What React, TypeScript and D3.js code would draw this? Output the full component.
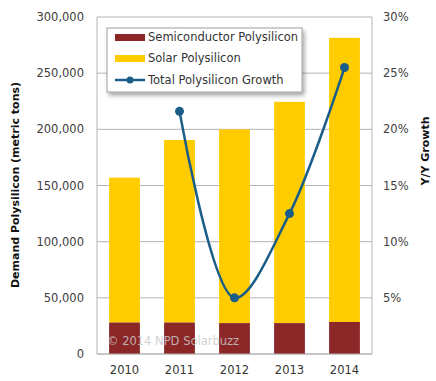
import React from "react";
import * as d3 from "d3";

const years = ["2010", "2011", "2012", "2013", "2014"];
const semiconductor = [28000, 28000, 27500, 27500, 28500];
const totalDemand = [157000, 190500, 200000, 224500, 281500];
const growthYears = ["2011", "2012", "2013", "2014"];
const growth = [21.6, 5.0, 12.5, 25.5];
const leftTicks = [0, 50000, 100000, 150000, 200000, 250000, 300000];
const rightTicks = [5, 10, 15, 20, 25, 30];

const W = 436;
const H = 381;
const M = { left: 97, right: 372, top: 17, bottom: 354 };
const FONT = "'DejaVu Sans', Verdana, sans-serif";

export default function App() {
  const x = d3.scaleBand<string>().domain(years).range([M.left, M.right]).paddingInner(0.44).paddingOuter(0.22);
  const y = d3.scaleLinear().domain([0, 300000]).range([M.bottom, M.top]);
  const y2 = d3.scaleLinear().domain([0, 30]).range([M.bottom, M.top]);
  const cx = (yr: string) => (x(yr) as number) + x.bandwidth() / 2;
  const fmt = d3.format(",");

  const linePts: [number, number][] = growthYears.map((yr, i) => [cx(yr), y2(growth[i])]);
  const linePath = d3.line().curve(d3.curveCatmullRom.alpha(0.5))(linePts) || "";

  const lineColor = "#1a5d88";
  const red = "#8c2727";
  const yellow = "#ffcc00";
  const grid = "#b4b4b4";

  return (
    <svg width={W} height={H} style={{ position: "absolute", left: 0, top: 0, background: "#fff" }} fontFamily={FONT}>
      <defs>
        <filter id="sh" x="-10%" y="-10%" width="130%" height="140%">
          <feDropShadow dx="2" dy="3" stdDeviation="2" floodColor="#000" floodOpacity="0.35" />
        </filter>
      </defs>
      {/* gridlines */}
      {leftTicks.map((t) => (
        <line key={t} x1={M.left} x2={M.right} y1={y(t)} y2={y(t)} stroke={grid} strokeWidth={1} />
      ))}
      {/* bars */}
      {years.map((yr, i) => (
        <g key={yr}>
          <rect x={x(yr)} width={x.bandwidth()} y={y(totalDemand[i])} height={y(semiconductor[i]) - y(totalDemand[i])} fill={yellow} />
          <rect x={x(yr)} width={x.bandwidth()} y={y(semiconductor[i])} height={y(0) - y(semiconductor[i])} fill={red} />
        </g>
      ))}
      {/* axes lines */}
      <line x1={M.left} x2={M.left} y1={M.top} y2={M.bottom} stroke={grid} />
      <line x1={M.right} x2={M.right} y1={M.top} y2={M.bottom} stroke={grid} />
      <line x1={M.left} x2={M.right} y1={M.bottom} y2={M.bottom} stroke={grid} />
      {/* watermark */}
      <text x={107} y={345} fontSize={11.5} fill="#c9c9c9" fillOpacity={0.85}>© 2014 NPD Solarbuzz</text>
      {/* growth line */}
      <path d={linePath} fill="none" stroke={lineColor} strokeWidth={2.5} />
      {growthYears.map((yr, i) => (
        <circle key={yr} cx={cx(yr)} cy={y2(growth[i])} r={4.5} fill={lineColor} />
      ))}
      {/* left ticks */}
      {leftTicks.map((t) => (
        <text key={t} x={84} y={y(t) + 4} fontSize={11.5} fill="#404040" textAnchor="end">{fmt(t)}</text>
      ))}
      {/* right ticks */}
      {rightTicks.map((t) => (
        <text key={t} x={383} y={y2(t) + 4} fontSize={11.5} fill="#404040">{t}%</text>
      ))}
      {/* x labels */}
      {years.map((yr) => (
        <text key={yr} x={cx(yr)} y={374} fontSize={11.5} fill="#333" textAnchor="middle">{yr}</text>
      ))}
      {/* axis titles */}
      <text transform="translate(19,185) rotate(-90)" fontSize={11} fontWeight="bold" fill="#111" textAnchor="middle">Demand Polysilicon (metric tons)</text>
      <text transform="translate(429,151) rotate(-90)" fontSize={11} fontWeight="bold" fill="#111" textAnchor="middle">Y/Y Growth</text>
      {/* legend */}
      <g>
        <rect x={107} y={28} width={195} height={64} fill="#fff" stroke="#a0a0a0" strokeWidth={1} filter="url(#sh)" />
        <rect x={115} y={34} width={30} height={7} fill={red} />
        <text x={148} y={41} fontSize={11.5} fill="#333">Semiconductor Polysilicon</text>
        <rect x={115} y={55} width={30} height={7} fill={yellow} />
        <text x={148} y={62} fontSize={11.5} fill="#333">Solar Polysilicon</text>
        <line x1={115} x2={145} y1={80} y2={80} stroke={lineColor} strokeWidth={2.5} />
        <circle cx={130} cy={80} r={3.5} fill={lineColor} />
        <text x={148} y={84} fontSize={11.5} fill="#333">Total Polysilicon Growth</text>
      </g>
    </svg>
  );
}
